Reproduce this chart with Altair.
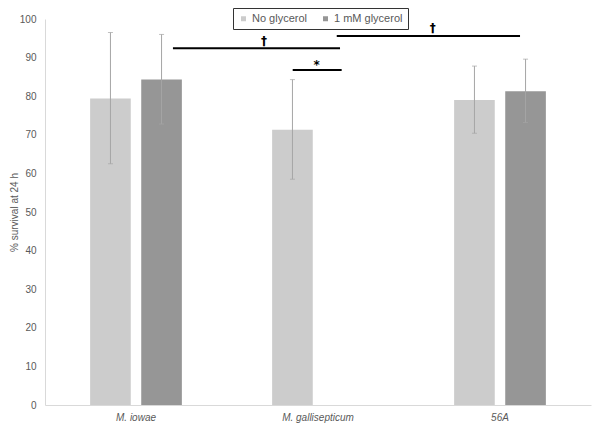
import altair as alt
import pandas as pd

# ---- data ----
categories = ["M. iowae", "M. gallisepticum", "56A"]
treatment_order = ["No glycerol", "1 mM glycerol"]
y_ticks = [0, 10, 20, 30, 40, 50, 60, 70, 80, 90, 100]

strains = ["M. iowae", "M. iowae", "M. gallisepticum", "56A", "56A"]
treatments = ["No glycerol", "1 mM glycerol", "No glycerol", "No glycerol", "1 mM glycerol"]
survival = [79.4, 84.3, 71.3, 79.0, 81.3]
err_low = [62.5, 72.8, 58.5, 70.4, 73.2]
err_high = [96.5, 96.0, 84.3, 87.8, 89.6]

# significance annotations (x in category units: 0..3 across the plot)
sig_x_start = [0.703, 1.603, 1.361]
sig_x_end = [1.621, 2.610, 1.630]
sig_y = [92.4, 95.6, 86.8]
sig_label = ["\u2020", "\u2020", "*"]
sig_label_x = [1.203, 2.130, 1.493]
sig_label_y = [94.4, 97.7, 88.0]

df = pd.DataFrame({
    "strain": strains,
    "treatment": treatments,
    "survival": survival,
    "low": err_low,
    "high": err_high,
})
ann = pd.DataFrame({
    "x0": sig_x_start,
    "x1": sig_x_end,
    "y": sig_y,
    "label": sig_label,
    "lx": sig_label_x,
    "ly": sig_label_y,
})

TITLE = "% survival at 24 h"
yscale = alt.Scale(domain=[0, 100], nice=False, zero=True)
yaxis = alt.Axis(values=y_ticks, labelPadding=9, titlePadding=0, title=TITLE)
xscale = alt.Scale(paddingInner=0.496, paddingOuter=0.248)
xoff_scale = alt.Scale(paddingInner=0.205, paddingOuter=0)

X = alt.X("strain:N", sort=categories, scale=xscale,
          axis=alt.Axis(title=None, labelAngle=0, labelFontStyle="italic",
                        labelPadding=7))
XO = alt.XOffset("treatment:N", sort=treatment_order, scale=xoff_scale)

base = alt.Chart(df)

bars = base.mark_bar().encode(
    x=X,
    xOffset=XO,
    y=alt.Y("survival:Q", scale=yscale, title=TITLE, axis=yaxis),
    color=alt.Color("treatment:N",
                    scale=alt.Scale(domain=treatment_order,
                                    range=["#cccccc", "#969696"]),
                    legend=alt.Legend(title=None, orient="none",
                                      legendX=188, legendY=-11,
                                      direction="horizontal",
                                      strokeColor="#333333",
                                      fillColor="white",
                                      padding=5,
                                      symbolType="square", symbolSize=25,
                                      symbolStrokeWidth=0,
                                      labelFontSize=11, labelColor="#595959",
                                      labelFont="Liberation Sans",
                                      labelOffset=3, columnPadding=12)),
)

err = base.mark_rule(color="#a5a5a5", strokeWidth=1).encode(
    x=X, xOffset=XO,
    y=alt.Y("low:Q", scale=yscale, title=TITLE, axis=yaxis),
    y2="high:Q",
)
cap_lo = base.mark_tick(color="#a5a5a5", thickness=1, size=5).encode(
    x=X, xOffset=XO,
    y=alt.Y("low:Q", scale=yscale, title=TITLE, axis=yaxis),
)
cap_hi = base.mark_tick(color="#a5a5a5", thickness=1, size=5).encode(
    x=X, xOffset=XO,
    y=alt.Y("high:Q", scale=yscale, title=TITLE, axis=yaxis),
)

main = alt.layer(bars, err, cap_lo, cap_hi)

ann_base = alt.Chart(ann)
AX = alt.Scale(domain=[0, 3], nice=False, zero=False)
lines = ann_base.mark_rule(color="black", strokeWidth=2).encode(
    x=alt.X("x0:Q", scale=AX, axis=None),
    x2="x1:Q",
    y=alt.Y("y:Q", scale=yscale, axis=None),
)
labels = ann_base.mark_text(color="black", fontSize=12, baseline="middle",
                            fontWeight="bold", font="DejaVu Sans").encode(
    x=alt.X("lx:Q", scale=AX, axis=None),
    y=alt.Y("ly:Q", scale=yscale, axis=None),
    text="label:N",
)
annot = alt.layer(lines, labels)

chart = alt.layer(main, annot).resolve_scale(
    x="independent", y="independent"
).properties(
    width=546, height=386,
    autosize=alt.AutoSizeParams(type="none"),
    padding={"left": 37, "top": 11, "right": 1, "bottom": 18},
).configure_view(stroke=None).configure_axis(
    labelFont="Liberation Sans", titleFont="Liberation Sans",
    labelColor="#595959", titleColor="#595959",
    labelFontSize=10, titleFontSize=10, titleFontWeight="normal",
    domainColor="#d9d9d9", ticks=False, grid=False,
)

chart.save("out.html", embed_options={"renderer": "svg", "actions": False})
